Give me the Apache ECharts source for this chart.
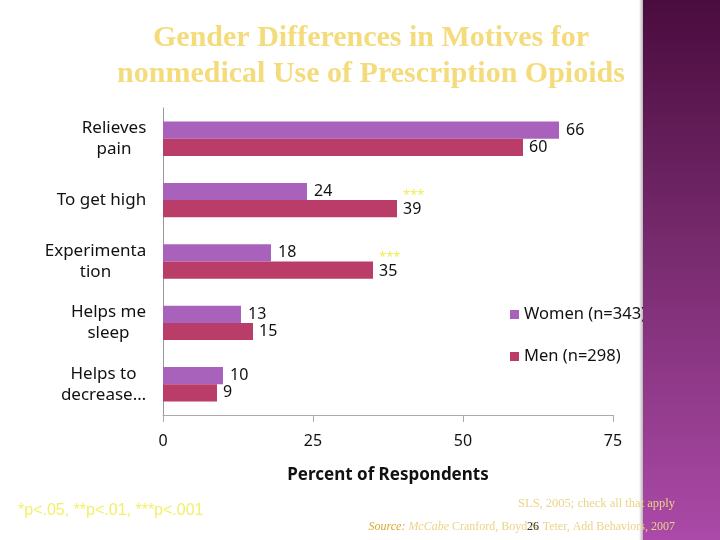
<!DOCTYPE html>
<html><head><meta charset="utf-8">
<script src="https://cdn.jsdelivr.net/npm/echarts@6/dist/echarts.min.js"></script>
<style>html,body{margin:0;padding:0;background:#fff}#c{width:720px;height:540px}</style>
</head><body><div id="c"></div>
<script>
const categories = ['Relieves\npain', 'To get high', 'Experimenta\ntion', 'Helps me\nsleep', 'Helps to\ndecrease…'];
const women = [66, 24, 18, 13, 10];
const men = [60, 39, 35, 15, 9];
const menSig = ['', '***', '***', '', ''];
const xTicks = [0, 25, 50, 75];
const seriesNames = ['Women (n=343)', 'Men (n=298)'];

const FONT = 'Noto Sans';
const ctx = document.createElement('canvas').getContext('2d');
ctx.font = '17px "' + FONT + '"';
const rich = {};
categories.forEach((c, i) => {
  const w = Math.max(...c.split('\n').map(l => ctx.measureText(l).width));
  rich['c' + i] = {width: Math.ceil(w) + 1, align: 'center', fontFamily: FONT, fontSize: 17, color: '#111', lineHeight: 21};
});

const chart = echarts.init(document.getElementById('c'), null, {renderer: 'canvas'});
chart.setOption({
  backgroundColor: '#ffffff',
  animation: false,
  grid: {left: 163, right: 107, top: 108, bottom: 125},
  legend: {
    orient: 'vertical', left: 505, top: 301, itemGap: 25,
    itemWidth: 9, itemHeight: 9, icon: 'rect',
    textStyle: {fontFamily: FONT, fontSize: 16.5, color: '#111'},
    data: seriesNames
  },
  xAxis: {
    type: 'value', min: 0, max: 75, interval: 25,
    axisLine: {show: true, lineStyle: {color: '#aaaaaa'}},
    axisTick: {show: true, inside: false, length: 7, lineStyle: {color: '#aaaaaa'}},
    splitLine: {show: false},
    axisLabel: {fontFamily: FONT, fontSize: 16, color: '#111', margin: 18,
      formatter: v => xTicks.includes(v) ? String(v) : ''},
    name: 'Percent of Respondents', nameLocation: 'middle', nameGap: 52,
    nameTextStyle: {fontFamily: FONT, fontSize: 17, fontWeight: 'bold', color: '#111'}
  },
  yAxis: {
    type: 'category', inverse: true, data: categories,
    axisLine: {show: true, lineStyle: {color: '#999999'}},
    axisTick: {show: false},
    axisLabel: {margin: 16,
      formatter: (v, i) => v.split('\n').map(l => '{c' + i + '|' + l + '}').join('\n'),
      rich: rich}
  },
  series: [
    {name: seriesNames[0], type: 'bar', data: women, barGap: '0%', barCategoryGap: '44%',
      itemStyle: {color: '#a962bb'},
      label: {show: true, position: 'right', distance: 7, fontFamily: FONT, fontSize: 16, color: '#111'}},
    {name: seriesNames[1], type: 'bar', barGap: '0%', barCategoryGap: '44%',
      data: men.map((v, i) => menSig[i] ? {value: v, label: {offset: [0, -4]}} : v),
      itemStyle: {color: '#b93d68'},
      label: {show: true, position: 'right', distance: 6,
        formatter: p => menSig[p.dataIndex] ? '{s|' + menSig[p.dataIndex] + '}\n{v|' + p.value + '}' : '{v|' + p.value + '}',
        rich: {
          s: {fontFamily: FONT, fontSize: 13, color: '#eeee55', lineHeight: 10, align: 'left'},
          v: {fontFamily: FONT, fontSize: 16, color: '#111', lineHeight: 18, align: 'left'}
        }}}
  ],
  graphic: [
    {type: 'text', x: 371, y: 20, z: 10,
      style: {text: 'Gender Differences in Motives for\nnonmedical Use of Prescription Opioids',
        fontFamily: 'Liberation Serif', fontWeight: 'bold', fontSize: 30, lineHeight: 36,
        fill: '#f4db7b', textAlign: 'center'}},
    {type: 'rect', shape: {x: 639, y: 0, width: 6, height: 540}, z: 20,
      style: {fill: new echarts.graphic.LinearGradient(0, 0, 1, 0, [
        {offset: 0, color: 'rgba(0,0,0,0)'}, {offset: 1, color: 'rgba(40,0,30,0.45)'}])}},
    {type: 'rect', shape: {x: 643, y: 0, width: 77, height: 540}, z: 21,
      style: {fill: new echarts.graphic.LinearGradient(0, 0, 0, 1, [
        {offset: 0, color: '#4a0c3e'}, {offset: 0.45, color: '#772a6d'}, {offset: 1, color: '#ab4aa8'}])}},
    {type: 'text', x: 18, y: 503, z: 30,
      style: {text: '*p<.05, **p<.01, ***p<.001', fontFamily: 'Liberation Sans', fontSize: 16, fill: '#f2f06a'}},
    {type: 'text', x: 675, y: 497, z: 30,
      style: {text: 'SLS, 2005; check all that apply', fontFamily: 'Liberation Serif', fontSize: 12.5, fill: '#ead488', textAlign: 'right'}},
    {type: 'text', x: 675, y: 521, z: 30,
      style: {text: '{u|Source:} {i|McCabe} Cranford, Boyd & Teter, Add Behaviors, 2007', textAlign: 'right',
        fontFamily: 'Liberation Serif', fontSize: 12, fill: '#ead488',
        rich: {u: {fontStyle: 'italic', fontFamily: 'Liberation Serif', fontSize: 12, fill: '#d9a830', textDecoration: 'underline'},
               i: {fontStyle: 'italic', fontFamily: 'Liberation Serif', fontSize: 12, fill: '#ead488'}}}},
    {type: 'text', x: 527, y: 521, z: 31,
      style: {text: '26', fontFamily: 'Liberation Serif', fontSize: 12, fill: '#333333'}}
  ]
});
</script></body></html>
